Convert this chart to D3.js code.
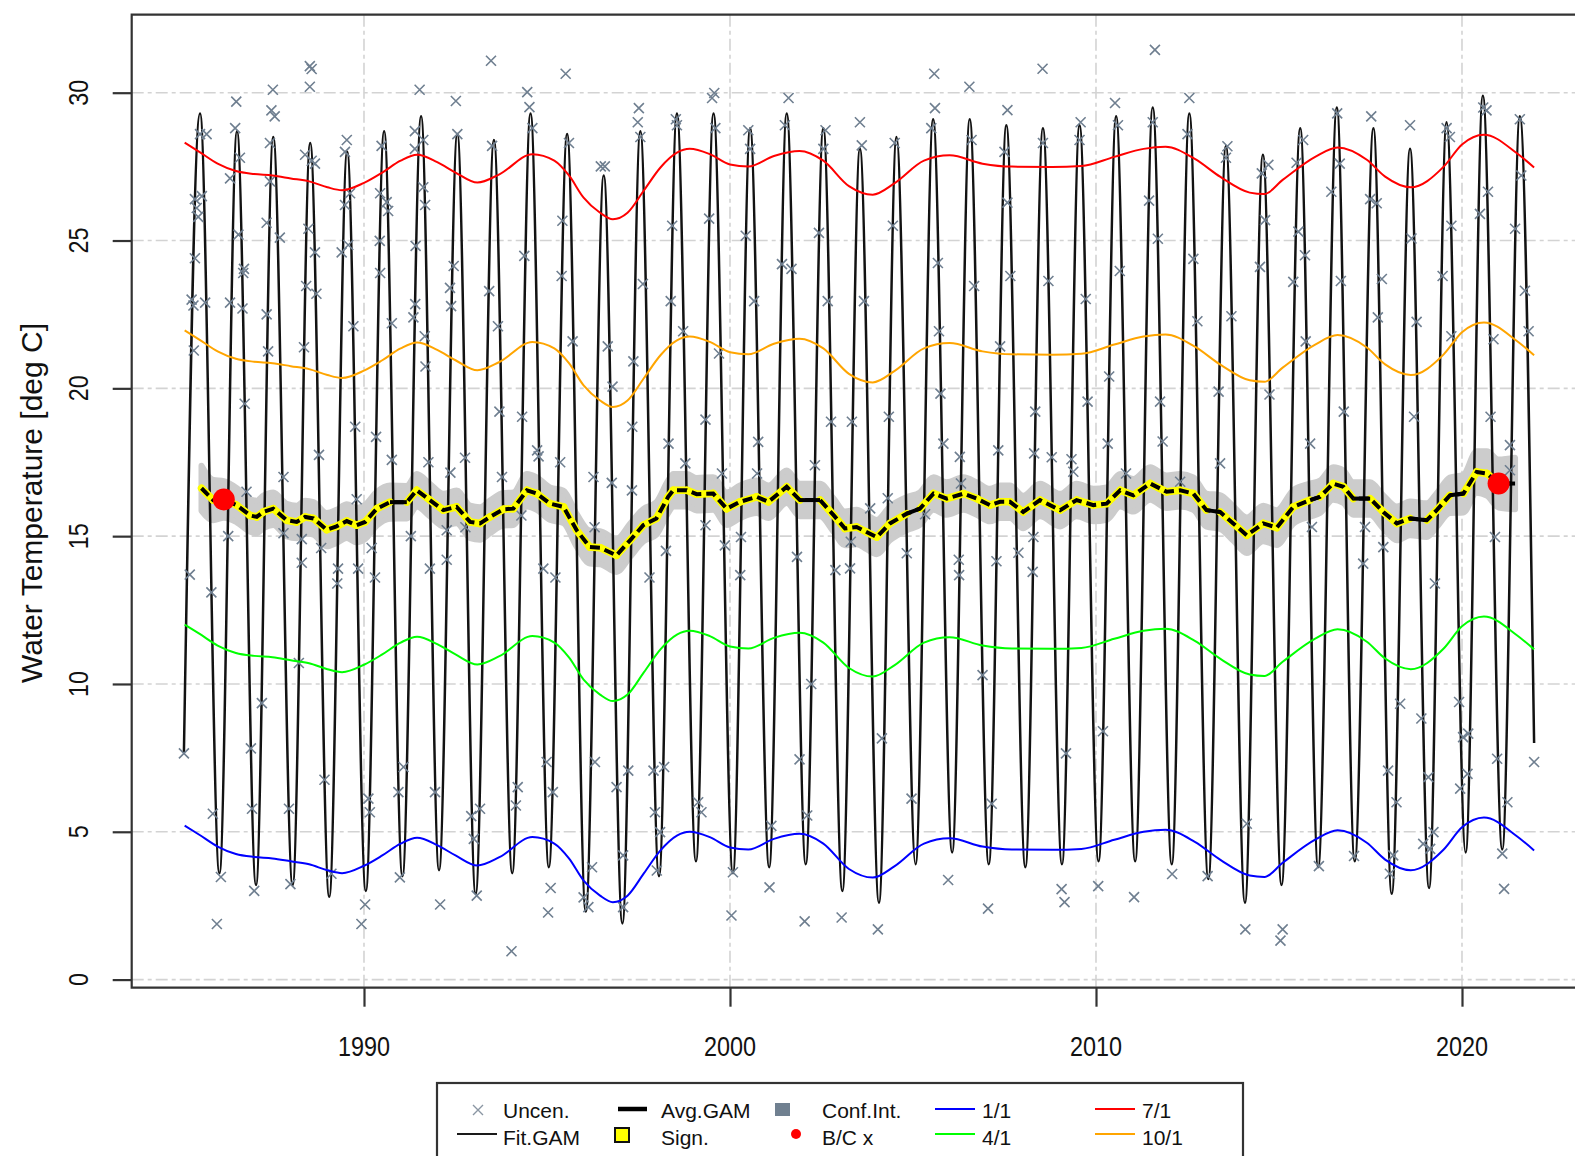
<!DOCTYPE html>
<html><head><meta charset="utf-8">
<script src="https://cdn.jsdelivr.net/npm/d3@7"></script>
<style>body{margin:0;background:#fff} svg{display:block;background:#fff}</style>
</head><body>
<svg id="c" width="1575" height="1156"></svg>
<script>
// ---------------- DATA ----------------
const xTicks = [1990, 2000, 2010, 2020];
const yTicks = [0, 5, 10, 15, 20, 25, 30];
const yLabel = "Water Temperature [deg C]";

// Fit.GAM: seasonal fit read at its start, yearly peaks/troughs and end
const fitYears = [1985.08,1985.52,1986.05,1986.53,1987.05,1987.52,1988.05,1988.53,1989.05,1989.54,1990.05,1990.55,1991.05,1991.56,1992.05,1992.55,1993.05,1993.55,1994.05,1994.55,1995.05,1995.55,1996.06,1996.55,1997.06,1997.55,1998.06,1998.55,1999.07,1999.55,2000.08,2000.55,2001.07,2001.55,2002.07,2002.55,2003.07,2003.55,2004.07,2004.55,2005.07,2005.55,2006.07,2006.55,2007.07,2007.55,2008.07,2008.55,2009.07,2009.55,2010.07,2010.55,2011.07,2011.55,2012.07,2012.55,2013.07,2013.55,2014.07,2014.56,2015.07,2015.58,2016.07,2016.58,2017.07,2017.58,2018.08,2018.58,2019.1,2019.58,2020.1,2020.57,2021.1,2021.58,2021.97];
const fitTemps = [7.7,29.3,3.6,28.7,3.2,28.5,3.2,28.3,2.8,28.0,3.0,28.7,3.5,29.2,3.7,28.6,2.9,28.4,3.6,29.3,3.8,28.6,2.3,27.2,1.9,28.7,3.5,29.3,4.0,29.3,3.6,28.8,3.8,29.3,3.9,28.8,3.0,28.1,2.6,28.5,3.9,29.1,4.3,29.1,3.9,28.9,3.8,28.8,3.9,28.9,4.0,29.2,4.0,29.5,3.9,29.3,3.4,28.2,2.6,27.9,3.2,28.8,3.8,29.5,4.0,28.8,2.9,28.1,3.1,29.0,4.3,29.9,4.4,29.2,8.0];

// Day-of-year trend lines (1/1, 4/1, 7/1, 10/1)
const seasYears = [1985.1,1985.5,1986.0,1986.5,1987.0,1987.5,1988.0,1988.5,1989.0,1989.4,1990.0,1990.5,1991.0,1991.45,1992.0,1992.5,1993.1,1993.7,1994.6,1995.2,1995.6,1996.0,1996.45,1996.8,1997.2,1997.65,1998.1,1998.55,1998.9,1999.45,2000.0,2000.5,2001.2,2001.9,2002.55,2003.25,2003.9,2004.5,2005.3,2006.0,2006.9,2007.7,2008.8,2009.6,2010.5,2011.3,2011.9,2012.7,2013.4,2014.2,2014.6,2015.1,2016.0,2016.6,2017.4,2017.9,2018.6,2019.5,2020.0,2020.6,2021.5,2021.97];
const jan1 = [5.21,4.9,4.5,4.25,4.15,4.1,4.0,3.9,3.7,3.6,3.85,4.2,4.6,4.8,4.55,4.2,3.86,4.14,4.82,4.6,4.1,3.35,2.84,2.62,2.84,3.6,4.37,4.87,5.0,4.82,4.47,4.4,4.76,4.93,4.6,3.74,3.45,3.84,4.6,4.78,4.5,4.4,4.39,4.42,4.73,5.0,5.07,4.66,4.05,3.52,3.47,3.95,4.74,5.05,4.63,4.06,3.7,4.4,5.15,5.48,4.85,4.37];
const apr1 = [12.01,11.7,11.3,11.05,10.95,10.9,10.8,10.7,10.5,10.4,10.65,11.0,11.4,11.6,11.35,11.0,10.66,10.94,11.62,11.4,10.9,10.15,9.64,9.42,9.64,10.4,11.17,11.67,11.8,11.62,11.27,11.2,11.56,11.73,11.4,10.54,10.25,10.64,11.4,11.58,11.3,11.2,11.19,11.22,11.53,11.8,11.87,11.46,10.85,10.32,10.27,10.75,11.54,11.85,11.43,10.86,10.5,11.2,11.95,12.28,11.65,11.17];
const jul1 = [28.31,28.0,27.6,27.35,27.25,27.2,27.1,27.0,26.8,26.7,26.95,27.3,27.7,27.9,27.65,27.3,26.96,27.24,27.92,27.7,27.2,26.45,25.94,25.72,25.94,26.7,27.47,27.97,28.1,27.92,27.57,27.5,27.86,28.03,27.7,26.84,26.55,26.94,27.7,27.88,27.6,27.5,27.49,27.52,27.83,28.1,28.17,27.76,27.15,26.62,26.57,27.05,27.84,28.15,27.73,27.16,26.8,27.5,28.25,28.58,27.95,27.47];
const oct1 = [21.96,21.65,21.25,21.0,20.9,20.85,20.75,20.65,20.45,20.35,20.6,20.95,21.35,21.55,21.3,20.95,20.61,20.89,21.57,21.35,20.85,20.1,19.59,19.37,19.59,20.35,21.12,21.62,21.75,21.57,21.22,21.15,21.51,21.68,21.35,20.49,20.2,20.59,21.35,21.53,21.25,21.15,21.14,21.17,21.48,21.75,21.82,21.41,20.8,20.27,20.22,20.7,21.49,21.8,21.38,20.81,20.45,21.15,21.9,22.23,21.6,21.12];

// Avg.GAM with confidence half-width
const avgYears = [1985.56,1985.88,1986.17,1986.52,1986.89,1987.07,1987.25,1987.52,1987.89,1988.16,1988.39,1988.62,1988.98,1989.25,1989.53,1989.8,1990.03,1990.35,1990.71,1991.17,1991.44,1991.8,1992.17,1992.53,1992.9,1993.17,1993.44,1993.81,1994.08,1994.45,1994.72,1995.08,1995.45,1995.81,1996.17,1996.45,1996.9,1997.27,1997.63,1997.99,1998.31,1998.45,1998.82,1999.09,1999.54,1999.91,2000.27,2000.73,2001.05,2001.55,2001.91,2002.46,2002.83,2003.14,2003.46,2003.73,2004.01,2004.37,2004.83,2005.19,2005.56,2005.92,2006.38,2006.74,2007.1,2007.38,2007.65,2008.01,2008.47,2009.02,2009.47,2009.93,2010.29,2010.66,2011.02,2011.48,2011.93,2012.3,2012.66,2013.02,2013.39,2013.75,2014.12,2014.57,2014.94,2015.39,2015.85,2016.12,2016.48,2016.76,2017.03,2017.49,2017.85,2018.22,2018.58,2019.04,2019.31,2019.67,2020.04,2020.4,2020.68,2021.0,2021.45];
const avgTemps = [16.62,16.22,16.24,16.05,15.7,15.65,15.82,15.93,15.54,15.48,15.65,15.6,15.22,15.33,15.51,15.37,15.48,15.93,16.15,16.15,16.55,16.22,15.88,15.99,15.48,15.43,15.65,15.91,15.93,16.55,16.44,16.1,15.99,15.2,14.63,14.61,14.35,14.86,15.37,15.6,16.33,16.55,16.55,16.42,16.44,15.93,16.16,16.33,16.16,16.67,16.22,16.22,15.71,15.26,15.31,15.14,14.97,15.43,15.76,15.93,16.44,16.27,16.44,16.27,16.05,16.16,16.16,15.82,16.22,15.88,16.22,16.05,16.1,16.55,16.38,16.78,16.5,16.55,16.44,15.88,15.82,15.43,15.03,15.43,15.29,15.99,16.22,16.33,16.78,16.67,16.27,16.27,15.82,15.43,15.6,15.54,15.88,16.38,16.44,17.17,17.12,16.78,16.78];
const avgCI = [0.76,0.68,0.62,0.58,0.55,0.55,0.55,0.55,0.55,0.55,0.55,0.55,0.56,0.56,0.57,0.58,0.58,0.57,0.56,0.55,0.55,0.55,0.55,0.55,0.55,0.55,0.55,0.55,0.55,0.55,0.55,0.55,0.55,0.55,0.56,0.56,0.56,0.56,0.55,0.55,0.55,0.55,0.55,0.55,0.55,0.55,0.55,0.55,0.55,0.55,0.55,0.55,0.56,0.57,0.58,0.58,0.58,0.57,0.56,0.55,0.55,0.55,0.55,0.55,0.55,0.55,0.55,0.55,0.55,0.55,0.55,0.55,0.55,0.55,0.55,0.55,0.55,0.55,0.55,0.56,0.57,0.58,0.6,0.6,0.59,0.57,0.56,0.55,0.55,0.55,0.55,0.55,0.56,0.57,0.57,0.57,0.57,0.6,0.64,0.7,0.75,0.81,0.87];
// start years of Avg.GAM segments that are NOT significant
const avgNotSig = [1990.71, 2001.91, 2004.83, 2013.02, 2015.85, 2017.03, 2018.58, 2019.67, 2021.0];

// B/C x points
const bcYears = [1986.17, 2021.0];
const bcTemps = [16.24, 16.78];

// Uncensored observations [decimal year, temperature]
const uncPoints = [
[1985.08,7.65],[1985.24,13.7],[1985.35,21.28],[1985.29,23.0],[1985.34,22.8],[1985.38,24.4],[1985.38,26.4],[1985.43,26.1],[1985.47,25.8],[1985.57,26.5],[1985.52,28.6],[1985.7,28.6],[1985.66,22.9],[1985.83,13.1],[1985.87,5.61],[1985.98,1.88],[1986.09,3.47],
[1986.51,29.7],[1986.48,28.8],[1986.61,27.8],[1986.34,27.1],[1986.57,25.2],[1986.7,23.9],[1986.34,22.9],[1986.68,22.7],[1986.29,15.0],[1986.79,16.5],[1986.74,19.48],[1986.72,24.04],[1986.91,7.82],[1986.94,5.78],[1987.0,3.0],
[1987.51,30.1],[1987.47,29.4],[1987.56,29.2],[1987.43,28.3],[1987.43,27.0],[1987.34,25.6],[1987.7,25.1],[1987.34,22.5],[1987.8,17.0],[1987.8,15.1],[1987.38,21.25],[1987.21,9.35],[1987.95,5.78],[1987.99,3.23],
[1988.52,30.9],[1988.57,30.8],[1988.52,30.2],[1988.39,27.9],[1988.57,27.7],[1988.66,27.6],[1988.48,25.4],[1988.66,24.6],[1988.7,23.2],[1988.3,14.9],[1988.3,14.1],[1988.83,14.6],[1988.42,23.46],[1988.36,21.39],[1988.77,17.75],[1988.22,10.71],[1988.92,6.76],[1989.11,3.58],
[1989.53,28.4],[1989.48,28.0],[1989.62,26.6],[1989.48,26.2],[1989.57,24.85],[1989.39,24.6],[1989.71,22.1],[1989.29,13.9],[1989.27,13.4],[1989.8,16.25],[1989.84,13.9],[1989.76,18.7],[1989.93,1.88],[1990.03,2.54],[1990.12,6.12],[1990.16,5.66],
[1990.44,26.6],[1990.62,26.3],[1990.66,26.0],[1990.44,23.9],[1990.76,22.2],[1990.48,28.2],[1990.21,14.6],[1990.3,13.6],[1990.43,24.99],[1990.33,18.36],[1990.76,17.58],[1990.98,3.46],[1990.94,6.34],[1991.08,7.19],
[1991.52,30.1],[1991.39,28.7],[1991.62,28.4],[1991.39,28.1],[1991.62,26.8],[1991.67,26.2],[1991.35,22.4],[1991.76,17.5],[1991.8,13.9],[1991.28,15.0],[1991.41,24.82],[1991.4,22.85],[1991.66,21.76],[1991.68,20.74],[1992.08,2.54],[1991.94,6.34],
[1992.35,23.4],[1992.76,17.65],[1992.36,17.15],[1992.26,14.2],[1992.26,15.2],[1992.77,15.3],[1992.51,29.72],[1992.55,28.6],[1992.45,24.14],[1992.38,22.78],[1992.93,5.53],[1993.17,5.78],[1993.0,4.76],[1993.08,2.84],
[1993.47,31.08],[1993.42,23.29],[1993.66,22.1],[1993.7,19.21],[1993.5,28.2],[1993.77,17.0],[1994.03,0.96],[1994.2,6.51],[1994.15,5.89],[1994.3,15.7],
[1994.46,30.02],[1994.52,29.51],[1994.6,28.8],[1994.38,24.48],[1994.32,19.04],[1994.73,17.9],[1994.77,17.7],[1994.9,13.9],[1995.23,13.6],[1995.1,3.1],[1995.03,2.27],[1995.16,6.34],[1994.99,7.36],
[1995.51,30.64],[1995.6,28.3],[1995.42,25.67],[1995.4,23.8],[1995.7,21.59],[1995.36,17.5],[1996.0,2.78],[1996.13,2.45],[1996.23,3.8],[1996.31,7.36],
[1996.47,27.51],[1996.58,27.51],[1996.66,21.42],[1996.79,20.06],[1996.27,17.0],[1996.77,16.8],[1996.3,15.3],[1996.9,6.51],[1997.08,4.2],[1997.08,2.45],[1997.22,7.07],
[1997.51,29.48],[1997.48,29.0],[1997.55,28.5],[1997.62,23.53],[1997.36,20.91],[1997.33,18.7],[1997.32,16.55],[1997.8,13.6],[1997.91,7.07],[1997.95,5.66],[1998.09,4.99],[1998.0,3.69],[1998.2,7.19],[1998.25,14.5],
[1998.52,29.1],[1998.55,28.9],[1998.42,25.5],[1998.38,22.95],[1998.72,21.93],[1998.32,18.13],[1998.78,17.46],[1999.13,6.0],[1999.22,5.66],
[1999.51,29.82],[1999.57,29.99],[1999.6,28.8],[1999.43,25.74],[1999.7,21.18],[1999.33,18.94],[1999.78,17.12],[1999.33,15.37],[1999.86,14.69],[2000.08,3.63],[2000.04,2.17],
[2000.5,28.73],[2000.55,28.1],[2000.43,25.16],[2000.66,22.95],[2000.77,18.19],[2000.74,17.12],[2000.3,14.97],[2000.28,13.68],
[2001.6,29.82],[2001.5,28.9],[2001.42,24.2],[2001.68,24.04],[2001.83,14.3],[2001.08,3.12],[2001.9,7.45],[2001.13,5.2],
[2002.61,28.73],[2002.55,28.1],[2002.43,25.26],[2002.67,22.95],[2002.76,18.87],[2002.32,17.4],[2002.88,13.85],[2002.22,10.0],[2002.11,5.55],[2002.04,1.97],
[2003.55,29.0],[2003.6,28.22],[2003.66,22.95],[2003.33,18.87],[2003.3,14.81],[2003.28,13.91],[2003.83,15.94],[2003.05,2.1],
[2004.45,25.5],[2004.34,19.04],[2004.5,28.3],[2004.31,16.28],[2004.83,14.42],[2004.04,1.7],[2004.15,8.16],[2004.96,6.12],
[2005.58,30.64],[2005.6,29.48],[2005.5,28.8],[2005.68,24.24],[2005.71,21.93],[2005.75,19.82],[2005.83,18.13],[2005.33,15.74],[2005.96,3.37],
[2006.54,30.2],[2006.6,28.4],[2006.67,23.46],[2006.28,17.68],[2006.31,16.78],[2006.25,14.2],[2006.26,13.68],[2006.9,10.3],[2007.15,5.95],[2007.05,2.4],
[2007.58,29.41],[2007.5,28.0],[2007.58,26.28],[2007.66,23.8],[2007.38,21.42],[2007.33,17.9],[2007.28,14.15],[2007.88,14.44],
[2008.54,30.81],[2008.55,28.3],[2008.34,19.21],[2008.7,23.63],[2008.31,17.8],[2008.79,17.67],[2008.29,14.97],[2008.27,13.79],[2009.06,3.06],[2009.14,2.62],[2009.18,7.65],
[2009.58,29.0],[2009.55,28.4],[2009.72,23.02],[2009.77,19.55],[2009.33,17.6],[2009.38,17.18],[2010.06,3.16],[2010.19,8.4],
[2010.52,29.65],[2010.6,28.9],[2010.65,23.97],[2010.36,20.4],[2010.32,18.13],[2010.82,17.12],[2011.04,2.79],
[2011.61,31.45],[2011.55,29.0],[2011.45,26.35],[2011.69,25.06],[2011.75,19.55],[2011.82,18.2],[2012.08,3.57],
[2012.55,29.82],[2012.5,28.6],[2012.66,24.38],[2012.77,22.27],[2012.3,16.84],[2013.05,3.5],
[2013.59,28.19],[2013.55,27.8],[2013.7,22.44],[2013.35,19.89],[2013.39,17.46],[2014.08,1.7],[2014.12,5.27],
[2014.71,27.56],[2014.53,27.27],[2014.62,25.69],[2014.48,24.11],[2014.74,19.79],[2015.04,1.32],[2015.1,1.7],
[2015.66,28.4],[2015.48,27.63],[2015.53,25.3],[2015.71,24.5],[2015.39,23.6],[2015.85,18.13],[2015.9,15.31],[2015.73,21.59],[2016.09,3.84],
[2016.59,29.3],[2016.66,27.6],[2016.43,26.65],[2016.69,23.63],[2016.77,19.21],[2017.05,4.18],
[2017.7,22.4],[2017.52,29.2],[2017.49,26.4],[2017.67,26.26],[2017.81,23.7],[2017.35,15.31],[2017.85,14.63],[2017.3,14.07],[2017.98,7.07],[2018.21,6.0],[2018.12,4.2],[2018.03,3.58],
[2018.58,28.9],[2018.62,25.07],[2018.76,22.25],[2018.69,19.04],[2018.31,9.33],[2018.89,8.83],[2019.08,6.85],[2018.94,4.59],[2019.22,4.99],[2019.13,4.42],
[2019.58,28.8],[2019.67,28.5],[2019.71,25.5],[2019.47,23.8],[2019.71,21.76],[2019.26,13.4],[2020.17,8.32],[2020.03,8.2],[2019.95,6.46],[2020.15,6.96],[2019.92,9.39],
[2020.58,29.5],[2020.67,29.4],[2020.71,26.65],[2020.49,25.9],[2020.86,21.66],[2020.78,19.04],[2020.9,14.97],[2020.96,7.47],[2021.24,6.0],[2021.1,4.26],[2021.15,3.07],
[2021.58,29.1],[2021.62,27.2],[2021.45,25.4],[2021.72,23.3],[2021.82,21.93],[2021.31,18.08],[2021.31,17.23],[2021.97,7.36]
];

// Legend
const legendLabels = [["Uncen.","Fit.GAM"],["Avg.GAM","Sign."],["Conf.Int.","B/C x"],["1/1","4/1"],["7/1","10/1"]];
const seasColors = {"1/1":"#0000ff","4/1":"#00ff00","7/1":"#ff0000","10/1":"#ffa500"};

// ---------------- DRAW ----------------
const FONT = "'Liberation Sans', Arial, sans-serif";
const svg = d3.select('#c');
const L = 131.7, T = 14.7, B = 987.7, R = 1605;
const x = d3.scaleLinear().domain([1990, 2020]).range([364, 1462]);
const y = d3.scaleLinear().domain([0, 30]).range([979.6, 92.7]);

svg.append('defs').append('clipPath').attr('id', 'pc')
  .append('rect').attr('x', L).attr('y', T).attr('width', R - L).attr('height', B - T);

const g = svg.append('g').attr('clip-path', 'url(#pc)');

// grid
g.selectAll('line.gy').data(yTicks).join('line').attr('class', 'gy')
  .attr('x1', L).attr('x2', R).attr('y1', d => y(d)).attr('y2', d => y(d))
  .attr('stroke', '#d3d3d3').attr('stroke-width', 1.6).attr('stroke-dasharray', '12,4,4,4');
g.selectAll('line.gx').data(xTicks).join('line').attr('class', 'gx')
  .attr('y1', T).attr('y2', B).attr('x1', d => x(d)).attr('x2', d => x(d))
  .attr('stroke', '#d3d3d3').attr('stroke-width', 1.6).attr('stroke-dasharray', '12,4,4,4');

// confidence band
const avg = avgYears.map((t, i) => ({ t, v: avgTemps[i], ci: avgCI[i] }));
g.append('path').datum(avg)
  .attr('d', d3.area().x(d => x(d.t)).y0(d => y(d.v - d.ci)).y1(d => y(d.v + d.ci)).curve(d3.curveMonotoneX))
  .attr('fill', '#cccccc').attr('stroke', '#cccccc').attr('stroke-width', 6).attr('stroke-linejoin', 'round');

// Fit.GAM
g.append('path').datum(fitYears.map((t, i) => [t, fitTemps[i]]))
  .attr('d', d3.line().x(d => x(d[0])).y(d => y(d[1])).curve(d3.curveMonotoneX))
  .attr('fill', 'none').attr('stroke', '#121212').attr('stroke-width', 2.5);

// Uncensored x markers
g.selectAll('path.unc').data(uncPoints).join('path').attr('class', 'unc')
  .attr('transform', d => `translate(${x(d[0])},${y(d[1])})`)
  .attr('d', 'M-5,-5L5,5M-5,5L5,-5')
  .attr('stroke', '#6f7f90').attr('stroke-width', 1.6).attr('fill', 'none');

// seasonal trend lines
const seasLine = d3.line().x(d => x(d[0])).y(d => y(d[1])).curve(d3.curveMonotoneX);
[["1/1", jan1], ["4/1", apr1], ["7/1", jul1], ["10/1", oct1]].forEach(([k, vals]) => {
  g.append('path').datum(seasYears.map((t, i) => [t, vals[i]]))
    .attr('d', seasLine).attr('fill', 'none').attr('stroke', seasColors[k]).attr('stroke-width', 2);
});

// Avg.GAM: yellow significant segments, black dashed line
const segs = [];
for (let i = 0; i < avg.length - 1; i++) {
  segs.push({ a: avg[i], b: avg[i + 1], sig: !avgNotSig.includes(avg[i].t) });
}
const segLine = d3.line().x(d => x(d.t)).y(d => y(d.v));
g.selectAll('path.ysig').data(segs.filter(s => s.sig)).join('path').attr('class', 'ysig')
  .attr('d', s => segLine([s.a, s.b]))
  .attr('stroke', '#ffff00').attr('stroke-width', 7.5).attr('stroke-linecap', 'round').attr('fill', 'none');
g.append('path').datum(avg).attr('d', segLine)
  .attr('fill', 'none').attr('stroke', '#000').attr('stroke-width', 4).attr('stroke-dasharray', '10,5');
g.selectAll('path.nsig').data(segs.filter(s => !s.sig)).join('path').attr('class', 'nsig')
  .attr('d', s => segLine([s.a, s.b]))
  .attr('stroke', '#000').attr('stroke-width', 4).attr('fill', 'none');

// B/C x
g.selectAll('circle.bc').data(bcYears.map((t, i) => [t, bcTemps[i]])).join('circle').attr('class', 'bc')
  .attr('cx', d => x(d[0])).attr('cy', d => y(d[1])).attr('r', 11).attr('fill', '#ff0000');

// plot box (open on the right, clipped by page)
svg.append('path').attr('d', `M${R},${T}H${L}V${B}H${R}`)
  .attr('fill', 'none').attr('stroke', '#333').attr('stroke-width', 2.2);

// axes ticks
const ax = svg.append('g').attr('transform', `translate(0,${B})`)
  .call(d3.axisBottom(x).tickValues(xTicks).tickSize(19).tickSizeOuter(0).tickFormat(''));
const ay = svg.append('g').attr('transform', `translate(${L},0)`)
  .call(d3.axisLeft(y).tickValues(yTicks).tickSize(19).tickSizeOuter(0).tickFormat(''));
[ax, ay].forEach(a => {
  a.select('.domain').remove();
  a.selectAll('.tick line').attr('stroke', '#333').attr('stroke-width', 2.2);
});

// tick labels
svg.selectAll('text.xl').data(xTicks).join('text').attr('class', 'xl')
  .attr('x', d => x(d)).attr('y', 1056).attr('text-anchor', 'middle')
  .attr('font-family', FONT).attr('font-size', 28).attr('fill', '#111')
  .attr('textLength', d => String(d).length * 13).attr('lengthAdjust', 'spacingAndGlyphs')
  .text(d => d);
svg.selectAll('text.yl').data(yTicks).join('text').attr('class', 'yl')
  .attr('transform', d => `translate(88,${y(d)}) rotate(-90)`).attr('text-anchor', 'middle')
  .attr('font-family', FONT).attr('font-size', 28).attr('fill', '#111')
  .attr('textLength', d => String(d).length * 13).attr('lengthAdjust', 'spacingAndGlyphs')
  .text(d => d);
svg.append('text').attr('transform', 'translate(42,503) rotate(-90)').attr('text-anchor', 'middle')
  .attr('font-family', FONT).attr('font-size', 30).attr('fill', '#111')
  .attr('textLength', 360).attr('lengthAdjust', 'spacingAndGlyphs')
  .text(yLabel);

// legend
const lg = svg.append('g');
lg.append('rect').attr('x', 437).attr('y', 1083).attr('width', 806).attr('height', 110)
  .attr('fill', '#fff').attr('stroke', '#333').attr('stroke-width', 2.2);
const colX = [503, 661, 822, 982, 1142];
const rowBase = [1118, 1145];
const rowMid = [1109, 1134];
legendLabels.forEach((col, ci) => col.forEach((lab, ri) => {
  lg.append('text').attr('x', colX[ci]).attr('y', rowBase[ri])
    .attr('font-family', FONT).attr('font-size', 21).attr('fill', '#111').text(lab);
}));
// symbols
lg.append('path').attr('transform', `translate(478,${rowMid[0] + 1})`).attr('d', 'M-5,-5L5,5M-5,5L5,-5')
  .attr('stroke', '#8a96a3').attr('stroke-width', 1.4);
lg.append('line').attr('x1', 457).attr('x2', 497).attr('y1', rowMid[1]).attr('y2', rowMid[1])
  .attr('stroke', '#1a1a1a').attr('stroke-width', 2);
lg.append('line').attr('x1', 618).attr('x2', 647).attr('y1', rowMid[0]).attr('y2', rowMid[0])
  .attr('stroke', '#000').attr('stroke-width', 4.5);
lg.append('rect').attr('x', 615).attr('y', 1128).attr('width', 14).attr('height', 14)
  .attr('fill', '#ffff00').attr('stroke', '#111').attr('stroke-width', 2);
lg.append('rect').attr('x', 775).attr('y', 1103).attr('width', 15).attr('height', 13).attr('fill', '#708090');
lg.append('circle').attr('cx', 796).attr('cy', 1134).attr('r', 5).attr('fill', '#ff0000');
[["1/1", 935, 0], ["4/1", 935, 1], ["7/1", 1095, 0], ["10/1", 1095, 1]].forEach(([k, x0, r]) => {
  lg.append('line').attr('x1', x0).attr('x2', x0 + 40).attr('y1', rowMid[r]).attr('y2', rowMid[r])
    .attr('stroke', seasColors[k]).attr('stroke-width', 2.2);
});
</script>
</body></html>
